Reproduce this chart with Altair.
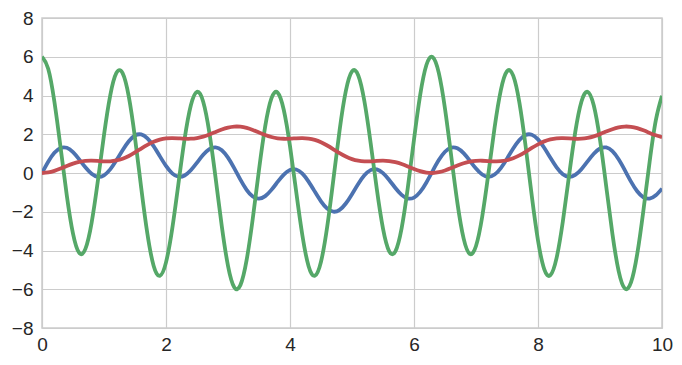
import altair as alt
import pandas as pd

x_vals = [round(0.1 * k, 1) for k in range(101)]

blue = [0.000, 0.579, 1.040, 1.293, 1.299, 1.078, 0.706, 0.293, -0.039, -0.194,
        -0.117, 0.186, 0.653, 1.179, 1.642, 1.936, 1.989, 1.790, 1.386, 0.871,
        0.365, -0.017, -0.192, -0.130, 0.139, 0.532, 0.936, 1.231, 1.326, 1.174,
        0.792, 0.248, -0.346, -0.870, -1.217, -1.326, -1.194, -0.872, -0.462, -0.082,
        0.156, 0.179, -0.035, -0.445, -0.960, -1.465, -1.840, -1.999, -1.902, -1.574,
        -1.091, -0.567, -0.121, 0.148, 0.184, -0.006, -0.360, -0.775, -1.129, -1.315,
        -1.268, -0.976, -0.487, 0.101, 0.668, 1.099, 1.312, 1.276, 1.023, 0.636,
        0.229, -0.080, -0.198, -0.081, 0.255, 0.740, 1.264, 1.706, 1.962, 1.973,
        1.735, 1.304, 0.782, 0.290, -0.062, -0.198, -0.097, 0.199, 0.603, 0.996,
        1.263, 1.318, 1.125, 0.709, 0.148, -0.443, -0.943, -1.253, -1.320, -1.151,
        -0.806]

green = [6.000, 5.383, 3.682, 1.309, -1.159, -3.128, -4.125, -3.918, -2.571, -0.432,
         1.959, 3.997, 5.163, 5.151, 3.940, 1.804, -0.757, -3.139, -4.783, -5.309,
         -4.612, -2.883, -0.567, 1.751, 3.483, 4.188, 3.681, 2.071, -0.258, -2.746,
         -4.789, -5.892, -5.787, -4.500, -2.342, 0.161, 2.405, 3.850, 4.153, 3.253,
         1.387, -0.973, -3.229, -4.809, -5.307, -4.577, -2.778, -0.322, 2.210, 4.221,
         5.242, 5.048, 3.705, 1.566, -0.827, -2.868, -4.040, -4.041, -2.857, -0.765,
         1.732, 4.030, 5.573, 5.983, 5.165, 3.316, 0.884, -1.541, -3.374, -4.176,
         -3.766, -2.255, -0.032, 2.343, 4.266, 5.249, 5.026, 3.634, 1.387, -1.187,
         -3.481, -4.956, -5.276, -4.384, -2.519, -0.160, 2.097, 3.681, 4.188, 3.480,
         1.715, -0.682, -3.136, -5.050, -5.961, -5.648, -4.186, -1.930, 0.573, 2.717,
         3.987]

red = [0.000, 0.030, 0.112, 0.231, 0.362, 0.483, 0.573, 0.623, 0.634, 0.621,
       0.603, 0.605, 0.646, 0.737, 0.879, 1.060, 1.258, 1.449, 1.609, 1.723,
       1.784, 1.800, 1.788, 1.770, 1.769, 1.802, 1.875, 1.985, 2.115, 2.242,
       2.342, 2.395, 2.390, 2.328, 2.222, 2.093, 1.965, 1.860, 1.793, 1.767,
       1.772, 1.791, 1.800, 1.777, 1.707, 1.586, 1.419, 1.225, 1.028, 0.852,
       0.718, 0.635, 0.602, 0.605, 0.624, 0.634, 0.617, 0.560, 0.464, 0.340,
       0.209, 0.095, 0.020, 0.001, 0.040, 0.130, 0.253, 0.384, 0.500, 0.584,
       0.627, 0.633, 0.617, 0.601, 0.608, 0.657, 0.758, 0.907, 1.093, 1.292,
       1.479, 1.632, 1.737, 1.790, 1.799, 1.784, 1.768, 1.771, 1.811, 1.892,
       2.006, 2.137, 2.261, 2.355, 2.398, 2.383, 2.313, 2.201, 2.070, 1.945,
       1.846]

x_ticks = [0, 2, 4, 6, 8, 10]
y_ticks = [-8, -6, -4, -2, 0, 2, 4, 6, 8]

series = [("blue", blue, "#4C72B0"), ("green", green, "#55A868"), ("red", red, "#C44E52")]

xs = alt.X("x:Q", scale=alt.Scale(domain=[0, 10], nice=False),
           axis=alt.Axis(values=x_ticks, title=None, format="d", labelFlush=False,
                         labelPadding=7))
ys = alt.Y("y:Q", scale=alt.Scale(domain=[-8, 8], nice=False),
           axis=alt.Axis(values=y_ticks, title=None, format="d", labelFlush=False,
                         labelPadding=9))

layers = []
for name, vals, col in series:
    df = pd.DataFrame({"x": x_vals, "y": vals})
    layers.append(
        alt.Chart(df).mark_line(color=col, strokeWidth=3.8, interpolate="natural",
                                clip=True).encode(x=xs, y=ys)
    )

chart = alt.layer(*layers).properties(
    width=620, height=310,
    padding={"left": 42, "top": 18, "right": 20, "bottom": 37},
    autosize=alt.AutoSizeParams(type="none"),
    background="white",
).configure_view(
    stroke="#cccccc", strokeWidth=1.5
).configure_axis(
    grid=True, gridColor="#cccccc", gridWidth=1.2,
    domain=False, ticks=False,
    labelFont="Liberation Sans", labelFontSize=19, labelColor="#262626",
)

chart.save("out.html", embed_options={"renderer": "svg", "actions": False})
